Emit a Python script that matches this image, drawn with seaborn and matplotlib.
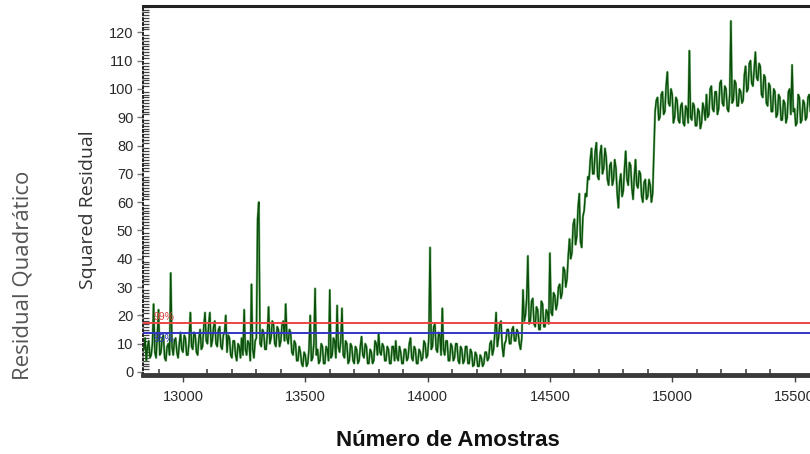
import numpy as np
import pandas as pd
import matplotlib
matplotlib.use("Agg")
import matplotlib.pyplot as plt
from matplotlib.ticker import MultipleLocator
import seaborn as sns

sns.set_theme(style="white")
plt.rcParams['font.family'] = ['Liberation Sans', 'DejaVu Sans']

# ---- data ----
sample_start = 12840
sample_step = 5
residual = [
    8, 12, 4, 9, 11, 5, 6, 10, 24, 7, 5, 13, 22, 6, 7, 12, 13, 5, 4, 9,             # 12840
    10, 6, 35, 9, 6, 11, 12, 7, 5, 10, 14, 8, 7, 13, 12, 6, 6, 11, 21, 9,          # 12940
    8, 14, 13, 7, 6, 12, 15, 8, 9, 16, 21, 11, 10, 17, 21, 9, 11, 16, 18, 10,      # 13040
    9, 15, 16, 9, 8, 13, 14, 20, 7, 13, 12, 6, 5, 11, 11, 6, 4, 10, 9, 5,          # 13140
    12, 6, 22, 8, 6, 11, 10, 4, 31, 8, 5, 11, 12, 54, 60, 10, 9, 15, 14, 8,        # 13240
    8, 14, 23, 10, 12, 18, 17, 10, 9, 16, 15, 9, 11, 17, 18, 11, 24, 12, 10, 15,   # 13340
    14, 7, 6, 11, 10, 4, 4, 9, 7, 3, 2, 7, 6, 2, 3, 8, 20, 4, 5, 10,               # 13440
    29.5, 6, 8, 3, 4, 10, 9, 3, 3, 9, 8, 4, 29, 5, 6, 12, 11, 5, 23.5, 9,          # 13540
    7, 11, 22.5, 6, 5, 11, 10, 3, 4, 10, 9, 4, 3, 9, 8, 3, 4, 9, 12.5, 6,          # 13640
    5, 10, 9, 3, 3, 8, 7, 3, 4, 11, 10, 6, 13.5, 7, 6, 10, 9, 4, 4, 9,             # 13740
    8, 3, 3, 9, 9, 4, 11, 5, 4, 9, 7, 3, 3, 8, 8, 4, 5, 10, 12, 5,                 # 13840
    4, 9, 8, 3, 3, 8, 7, 4, 5, 11, 10, 5, 6, 12, 44, 8, 9, 16, 17, 8,              # 13940
    7, 14, 13, 6, 22.5, 8, 6, 11, 11, 4, 4, 10, 9, 4, 5, 10, 10, 4, 3, 9,          # 14040
    8, 3, 4, 9, 9, 3, 3, 8, 7, 2, 2.5, 7, 6, 2, 2, 6, 5, 2, 3, 7,                  # 14140
    7, 4, 5, 10, 11, 6, 8, 14, 21, 9, 12, 17, 18, 9, 5.5, 10, 11, 15, 15, 10,      # 14240
    10, 15, 16, 11, 11, 15, 14, 10, 8, 12, 29, 18, 20, 26, 41, 17, 18, 25, 26, 17, # 14340
    16, 23, 22, 15, 15, 25, 24, 16, 16, 22, 21, 17, 42, 21, 20, 28, 27, 22, 24, 30,  # 14440
    31, 26, 28, 37, 36, 30, 33, 41, 47, 40, 42, 52, 54, 45, 48, 58, 63, 46, 44, 55,  # 14540
    57, 63, 62, 69, 68, 75, 79, 70, 70, 78, 81, 69, 68, 77, 80, 70, 72, 79, 76, 68,  # 14640
    66, 73, 74, 66, 68, 75, 72, 63, 58, 67, 70, 62, 64, 72, 78, 68, 66, 74, 73, 65,  # 14740
    61, 69, 75, 66, 65, 71, 70, 62, 60, 67, 68, 61, 62, 68, 66, 60, 63, 78, 92, 96,  # 14840
    97, 89, 90, 98, 99, 91, 92, 101, 106, 95, 94, 100, 98, 88, 90, 97, 96, 89, 88, 94,  # 14940
    95, 88, 87, 94, 93, 88, 113.5, 90, 89, 95, 94, 87, 87, 93, 92, 86, 88, 95, 93, 89,  # 15040
    98, 90, 91, 100, 101, 93, 92, 99, 99, 91, 93, 102, 103, 95, 94, 101, 100, 93, 92, 98,  # 15140
    124, 95, 96, 103, 102, 94, 94, 100, 99, 95, 96, 105, 108, 99, 100, 109, 110, 102, 101, 107,  # 15240
    113, 104, 103, 109, 108, 98, 97, 105, 104, 95, 94, 102, 101, 92, 92, 100, 99, 90, 91, 98,  # 15340
    97, 89, 89, 96, 95, 88, 90, 99, 100, 91, 108.5, 92, 93, 87, 88, 98, 97, 88, 89, 96,  # 15440
    95, 89, 90, 97, 98, 92, 93,                                                      # 15540
]
samples = sample_start + sample_step * np.arange(len(residual))
limit_99 = 17.2
limit_95 = 13.8
limit_labels = ["99%", "95%"]
x_ticks = [13000, 13500, 14000, 14500, 15000, 15500]
y_ticks = list(range(0, 130, 10))

df = pd.DataFrame({"Amostra": samples, "Residual": residual})

# ---- figure ----
fig = plt.figure(figsize=(8.10, 4.54), dpi=100)
ax = fig.add_axes([143 / 810, (454 - 375) / 454, (830 - 143) / 810, (375 - 5.7) / 454])

sns.lineplot(data=df, x="Amostra", y="Residual", ax=ax, color="#3c9a3c",
             linewidth=1.7, alpha=0.6, zorder=2)
sns.lineplot(data=df, x="Amostra", y="Residual", ax=ax, color="#0c4f0c",
             linewidth=1.0, zorder=3)

ax.axhline(limit_99, color="#ee4545", linewidth=1.4, zorder=4)
ax.axhline(limit_95, color="#3535c8", linewidth=1.4, zorder=4)
ax.text(12878, limit_99 + 2.2, limit_labels[0], color="#e04040", fontsize=7.5,
        va="center", ha="left", zorder=5)
ax.text(12878, limit_95 - 2.1, limit_labels[1], color="#3030c0", fontsize=7.5,
        va="center", ha="left", zorder=5)

ax.set_xlim(12836.5, 15645)
ax.set_ylim(-1.06, 129.4)
ax.set_xticks(x_ticks)
ax.set_xticklabels([str(t) for t in x_ticks])
ax.set_yticks(y_ticks)
ax.set_yticklabels([str(t) for t in y_ticks])
ax.xaxis.set_minor_locator(MultipleLocator(100))
ax.yaxis.set_minor_locator(MultipleLocator(1))

ax.tick_params(axis="x", which="major", direction="out", length=5, width=1,
               color="#444444", labelsize=10.5, labelcolor="#2a2a2a", pad=6)
ax.tick_params(axis="x", which="minor", direction="in", length=4, width=1.2,
               color="#444444")
ax.tick_params(axis="y", which="major", direction="out", length=4, width=1,
               color="#777777", labelsize=10.5, labelcolor="#2a2a2a", pad=3)
ax.tick_params(axis="y", which="minor", direction="in", length=4, width=0.9,
               color="#444444")
ax.tick_params(bottom=True, left=True, which="both")

ax.spines["right"].set_visible(False)
ax.spines["top"].set_linewidth(2.2)
ax.spines["top"].set_color("#222222")
ax.spines["bottom"].set_linewidth(3.5)
ax.spines["bottom"].set_color("#3a3a3a")
ax.spines["left"].set_linewidth(1.4)
ax.spines["left"].set_linestyle((0, (1, 1.5)))
ax.spines["left"].set_color("#222222")

ax.set_xlabel("")
ax.set_ylabel("")
fig.text(88 / 810, 1 - 210 / 454, "Squared Residual", rotation=90, ha="center",
         va="center", fontsize=14, color="#333333", family=["Open Sans", "DejaVu Sans"])
fig.text(23 / 810, 1 - 275 / 454, "Residual Quadrático", rotation=90, ha="center",
         va="center", fontsize=16, color="#555555", family=["Open Sans", "DejaVu Sans"])
fig.text(448 / 810, 1 - 441 / 454, "Número de Amostras", ha="center", va="center",
         fontsize=16, fontweight="bold", color="#111111")

fig.savefig("out.png", dpi=100)
